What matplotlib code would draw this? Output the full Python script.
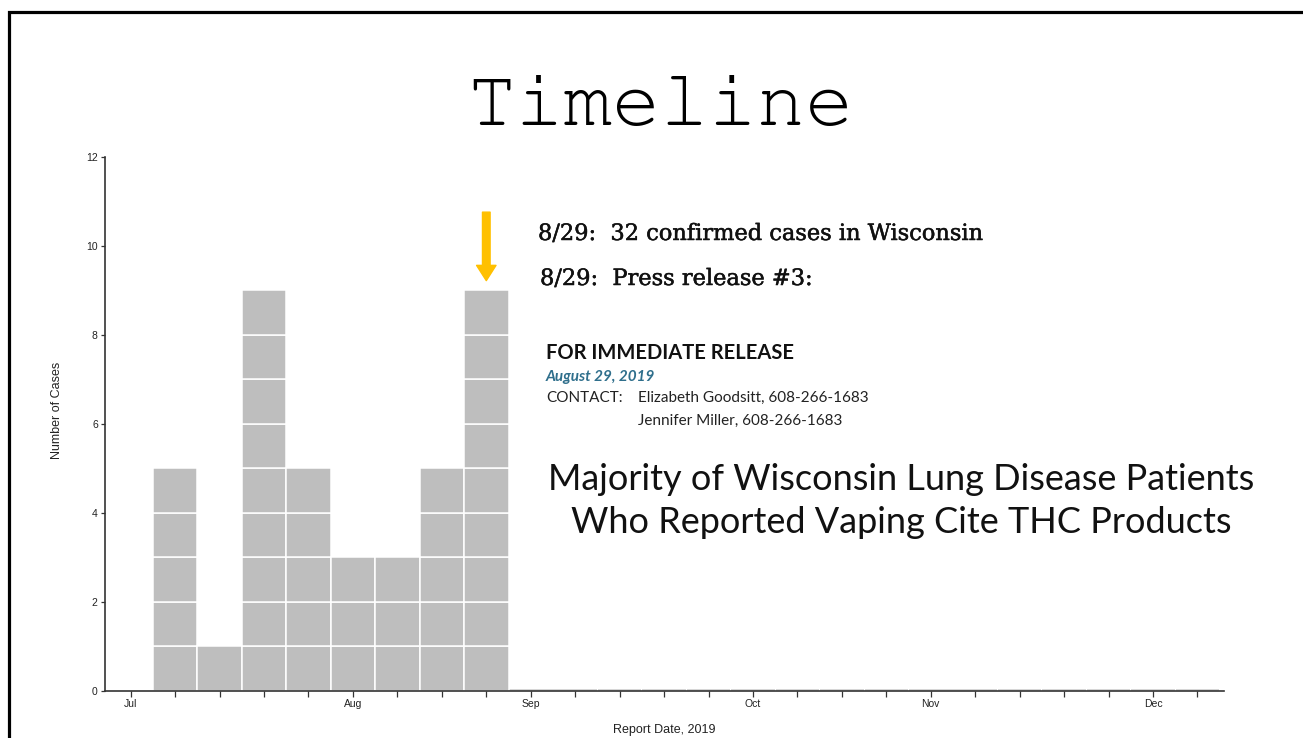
import matplotlib
matplotlib.use('Agg')
import matplotlib.pyplot as plt
from matplotlib.patches import Rectangle
from matplotlib import patheffects as pe
from matplotlib import font_manager as fm

# ---- data ----
weeks = [1, 2, 3, 4, 5, 6, 7, 8]
cases = [5, 1, 9, 5, 3, 3, 5, 9]
zero_weeks = list(range(9, 25))
month_labels = ['Jul', 'Aug', 'Sep', 'Oct', 'Nov', 'Dec']
month_weeks = [0, 5, 9, 14, 18, 23]
yticks = [0, 2, 4, 6, 8, 10, 12]

W, H = 1303, 738
fig = plt.figure(figsize=(W / 100, H / 100), dpi=100)

def fx(px):
    return px / W

def fy(py):
    return 1 - py / H

installed = {f.name for f in fm.fontManager.ttflist}
mono_choices = [f for f in ['Courier New', 'Nimbus Mono PS', 'FreeMono', 'Liberation Mono']
                if f in installed] or ['DejaVu Sans Mono']
title_font = mono_choices[0]

# slide border (extends past right and bottom edges)
fig.patches.append(Rectangle((fx(9), -0.2), 1.5, fy(11.5) + 0.2,
                             transform=fig.transFigure, fill=False,
                             ec='black', lw=2.3))

ax = fig.add_axes([fx(104.7), fy(690.7), (1223.7 - 104.7) / W, (690.7 - 157) / H])
ax.set_xlim(-0.585, 24.59)
ax.set_ylim(0, 12)

# stacked unit cells
xs, bottoms = [], []
for w, c in zip(weeks, cases):
    for k in range(c):
        xs.append(w)
        bottoms.append(k)
ax.bar(xs, [1] * len(xs), bottom=bottoms, width=1, color='#bebebe',
       edgecolor='white', linewidth=1.1, zorder=2)
ax.bar(zero_weeks, [0.03] * len(zero_weeks), width=0.98, color='#d6d6d6',
       edgecolor='none', zorder=1)

tick_font = ['Liberation Sans Narrow', 'Liberation Sans', 'DejaVu Sans']
for s in ['top', 'right']:
    ax.spines[s].set_visible(False)
for s in ['left', 'bottom']:
    ax.spines[s].set_color('#333333')
    ax.spines[s].set_linewidth(1.2)
    ax.spines[s].set_zorder(3)

ax.set_xticks(month_weeks)
ax.set_xticklabels(month_labels)
ax.set_xticks(list(range(0, 25)), minor=True)
ax.tick_params(axis='x', which='both', length=4, width=0.9, color='#333333', pad=2)
ax.set_yticks(yticks)
ax.tick_params(axis='y', length=3, width=0.9, color='#333333', pad=2)
for lab in ax.get_xticklabels() + ax.get_yticklabels():
    lab.set_fontfamily(tick_font)
    lab.set_fontsize(7.5)
    lab.set_color('#222222')

ax.set_xlabel('Report Date, 2019', family=tick_font, fontsize=9, color='#222222')
ax.xaxis.set_label_coords(0.5, -0.063)
ax.set_ylabel('Number of Cases', family=tick_font, fontsize=9, color='#222222')
ax.yaxis.set_label_coords(-0.037, 0.526)

# arrow over the last reported week
ax.annotate('', xy=(8, 9.22), xytext=(8, 10.76),
            arrowprops=dict(arrowstyle='simple,head_length=1.1,head_width=1.4,tail_width=0.55',
                            color='#FFC000', mutation_scale=10, shrinkA=0, shrinkB=0),
            zorder=4)

# title
fig.text(fx(660), fy(125), 'Timeline', family=title_font, fontsize=58,
         ha='center', va='baseline', color='black')

serif = ['DejaVu Serif']
thick = [pe.withStroke(linewidth=0.35, foreground='#111111')]
fig.text(fx(538), fy(240), '8/29:  32 confirmed cases in Wisconsin', family=serif,
         fontsize=16.2, ha='left', va='baseline', color='#111111', path_effects=thick)
fig.text(fx(540), fy(285), '8/29:  Press release #3:', family=serif,
         fontsize=16.2, ha='left', va='baseline', color='#111111', path_effects=thick)

lato = ['Lato', 'DejaVu Sans']
fig.text(fx(546), fy(359), 'FOR IMMEDIATE RELEASE', family=lato, weight='bold',
         fontsize=14.5, ha='left', va='baseline', color='#111111')
fig.text(fx(546), fy(381), 'August 29, 2019', family=lato, weight='bold',
         style='italic', fontsize=11, ha='left', va='baseline', color='#2f6f8c')
fig.text(fx(546), fy(402), 'CONTACT:', family=lato, fontsize=11,
         ha='left', va='baseline', color='#222222')
fig.text(fx(638), fy(402), 'Elizabeth Goodsitt, 608-266-1683', family=lato,
         fontsize=11, ha='left', va='baseline', color='#222222')
fig.text(fx(638), fy(425), 'Jennifer Miller, 608-266-1683', family=lato,
         fontsize=11, ha='left', va='baseline', color='#222222')

fig.text(fx(901), fy(490), 'Majority of Wisconsin Lung Disease Patients', family=lato,
         fontsize=26, ha='center', va='baseline', color='#111111')
fig.text(fx(901), fy(533), 'Who Reported Vaping Cite THC Products', family=lato,
         fontsize=26, ha='center', va='baseline', color='#111111')

fig.savefig('out.png', dpi=100)
